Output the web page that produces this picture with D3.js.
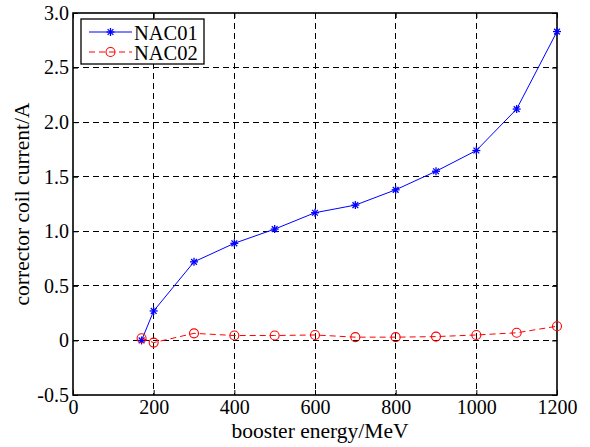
<!DOCTYPE html>
<html>
<head>
<meta charset="utf-8">
<script src="https://cdn.jsdelivr.net/npm/d3@7"></script>
<style>
  html, body { margin: 0; padding: 0; background: #fff; }
  svg { display: block; }
  text { font-family: "Liberation Serif", "Times New Roman", serif; fill: #000; }
</style>
</head>
<body>
<svg id="chart" width="590" height="447"></svg>
<script>
// Booster energy (MeV) at each measurement
const energy = [170, 200, 300, 400, 500, 600, 700, 800, 900, 1000, 1100, 1200];
// Corrector coil currents (A)
const nac01 = [0.00, 0.27, 0.72, 0.89, 1.02, 1.17, 1.24, 1.38, 1.55, 1.74, 2.12, 2.83];
const nac02 = [0.02, -0.02, 0.065, 0.045, 0.045, 0.05, 0.03, 0.03, 0.035, 0.05, 0.07, 0.13];
const seriesNames = ["NAC01", "NAC02"];
const xTicks = [0, 200, 400, 600, 800, 1000, 1200];
const yTicks = [-0.5, 0, 0.5, 1.0, 1.5, 2.0, 2.5, 3.0];

const svg = d3.select("#chart");
const pL = 73, pR = 557, pT = 13, pB = 395;

const x = d3.scaleLinear().domain([0, 1200]).range([pL, pR]);
const y = d3.scaleLinear().domain([-0.5, 3.0]).range([pB, pT]);

const fmtX = v => String(v);
const fmtY = v => v === 0 ? "0" : v.toFixed(1);

// dashed grid
const grid = svg.append("g").attr("stroke", "#000").attr("stroke-width", 1)
  .attr("stroke-dasharray", "6,4").attr("shape-rendering", "crispEdges");
xTicks.slice(1, -1).forEach(t => {
  grid.append("line").attr("x1", x(t)).attr("x2", x(t)).attr("y1", pT).attr("y2", pB);
});
yTicks.slice(1, -1).forEach(t => {
  grid.append("line").attr("x1", pL).attr("x2", pR).attr("y1", y(t)).attr("y2", y(t));
});

// axes with inward ticks
const tickLen = 5;
const xAxisB = d3.axisBottom(x).tickValues(xTicks).tickFormat(fmtX).tickSizeInner(-tickLen).tickSizeOuter(0).tickPadding(5);
const yAxisL = d3.axisLeft(y).tickValues(yTicks).tickFormat(fmtY).tickSizeInner(-tickLen).tickSizeOuter(0).tickPadding(4);
const xAxisT = d3.axisTop(x).tickValues(xTicks).tickSizeInner(-tickLen).tickSizeOuter(0).tickFormat("");
const yAxisR = d3.axisRight(y).tickValues(yTicks).tickSizeInner(-tickLen).tickSizeOuter(0).tickFormat("");

function styleAxis(g) {
  g.select(".domain").remove();
  g.selectAll("line").attr("stroke", "#000").attr("stroke-width", 1);
  g.selectAll("text").attr("font-family", "Liberation Serif, serif").attr("font-size", 20).attr("fill", "#000");
}
svg.append("g").attr("transform", `translate(0,${pB})`).call(xAxisB).call(styleAxis);
svg.append("g").attr("transform", `translate(${pL},0)`).call(yAxisL).call(styleAxis);
svg.append("g").attr("transform", `translate(0,${pT})`).call(xAxisT).call(styleAxis);
svg.append("g").attr("transform", `translate(${pR},0)`).call(yAxisR).call(styleAxis);

// frame
svg.append("rect").attr("x", pL).attr("y", pT).attr("width", pR - pL).attr("height", pB - pT)
  .attr("fill", "none").attr("stroke", "#000").attr("stroke-width", 1.6);

// axis titles
svg.append("text").attr("x", (pL + pR) / 2 + 5).attr("y", 437.5).attr("text-anchor", "middle")
  .attr("font-size", 21.5).text("booster energy/MeV");
svg.append("text").attr("transform", `translate(29,${(pT + pB) / 2}) rotate(-90)`)
  .attr("text-anchor", "middle").attr("font-size", 21.5).text("corrector coil current/A");

const line = d3.line().x(d => x(d[0])).y(d => y(d[1]));

// markers
function star(g, cx, cy, r, color) {
  const s = g.append("g").attr("transform", `translate(${cx},${cy})`).attr("stroke", color).attr("stroke-width", 1.3);
  s.append("line").attr("x1", -r).attr("x2", r).attr("y1", 0).attr("y2", 0);
  s.append("line").attr("x1", 0).attr("x2", 0).attr("y1", -r).attr("y2", r);
  const d = r * 0.72;
  s.append("line").attr("x1", -d).attr("x2", d).attr("y1", -d).attr("y2", d);
  s.append("line").attr("x1", -d).attr("x2", d).attr("y1", d).attr("y2", -d);
}
function circ(g, cx, cy, r, color) {
  g.append("circle").attr("cx", cx).attr("cy", cy).attr("r", r)
    .attr("fill", "none").attr("stroke", color).attr("stroke-width", 1.1);
}

const blue = "#0000ff", red = "#ff0000";
const plot = svg.append("g");

// NAC01
const d1 = energy.map((e, i) => [e, nac01[i]]);
plot.append("path").datum(d1).attr("d", line).attr("fill", "none").attr("stroke", blue).attr("stroke-width", 1);
d1.forEach(d => star(plot, x(d[0]), y(d[1]), 4, blue));

// NAC02
const d2 = energy.map((e, i) => [e, nac02[i]]);
plot.append("path").datum(d2).attr("d", line).attr("fill", "none").attr("stroke", red)
  .attr("stroke-width", 1).attr("stroke-dasharray", "6,4");
d2.forEach(d => circ(plot, x(d[0]), y(d[1]), 4.5, red));

// legend
const lg = svg.append("g");
lg.append("rect").attr("x", 81).attr("y", 19).attr("width", 123).attr("height", 45)
  .attr("fill", "#fff").attr("stroke", "#000").attr("stroke-width", 1.3);
const rows = [
  { name: seriesNames[0], color: blue, dash: null, mark: star, size: 4, yy: 32 },
  { name: seriesNames[1], color: red, dash: "6,4", mark: circ, size: 4.5, yy: 52 }
];
rows.forEach(r => {
  const ln = lg.append("line").attr("x1", 89).attr("x2", 132).attr("y1", r.yy).attr("y2", r.yy)
    .attr("stroke", r.color).attr("stroke-width", 1);
  if (r.dash) ln.attr("stroke-dasharray", r.dash);
  r.mark(lg, 110.5, r.yy, r.size, r.color);
  lg.append("text").attr("x", 134).attr("y", r.yy + 7.5).attr("font-size", 20.5).text(r.name);
});
</script>
</body>
</html>
